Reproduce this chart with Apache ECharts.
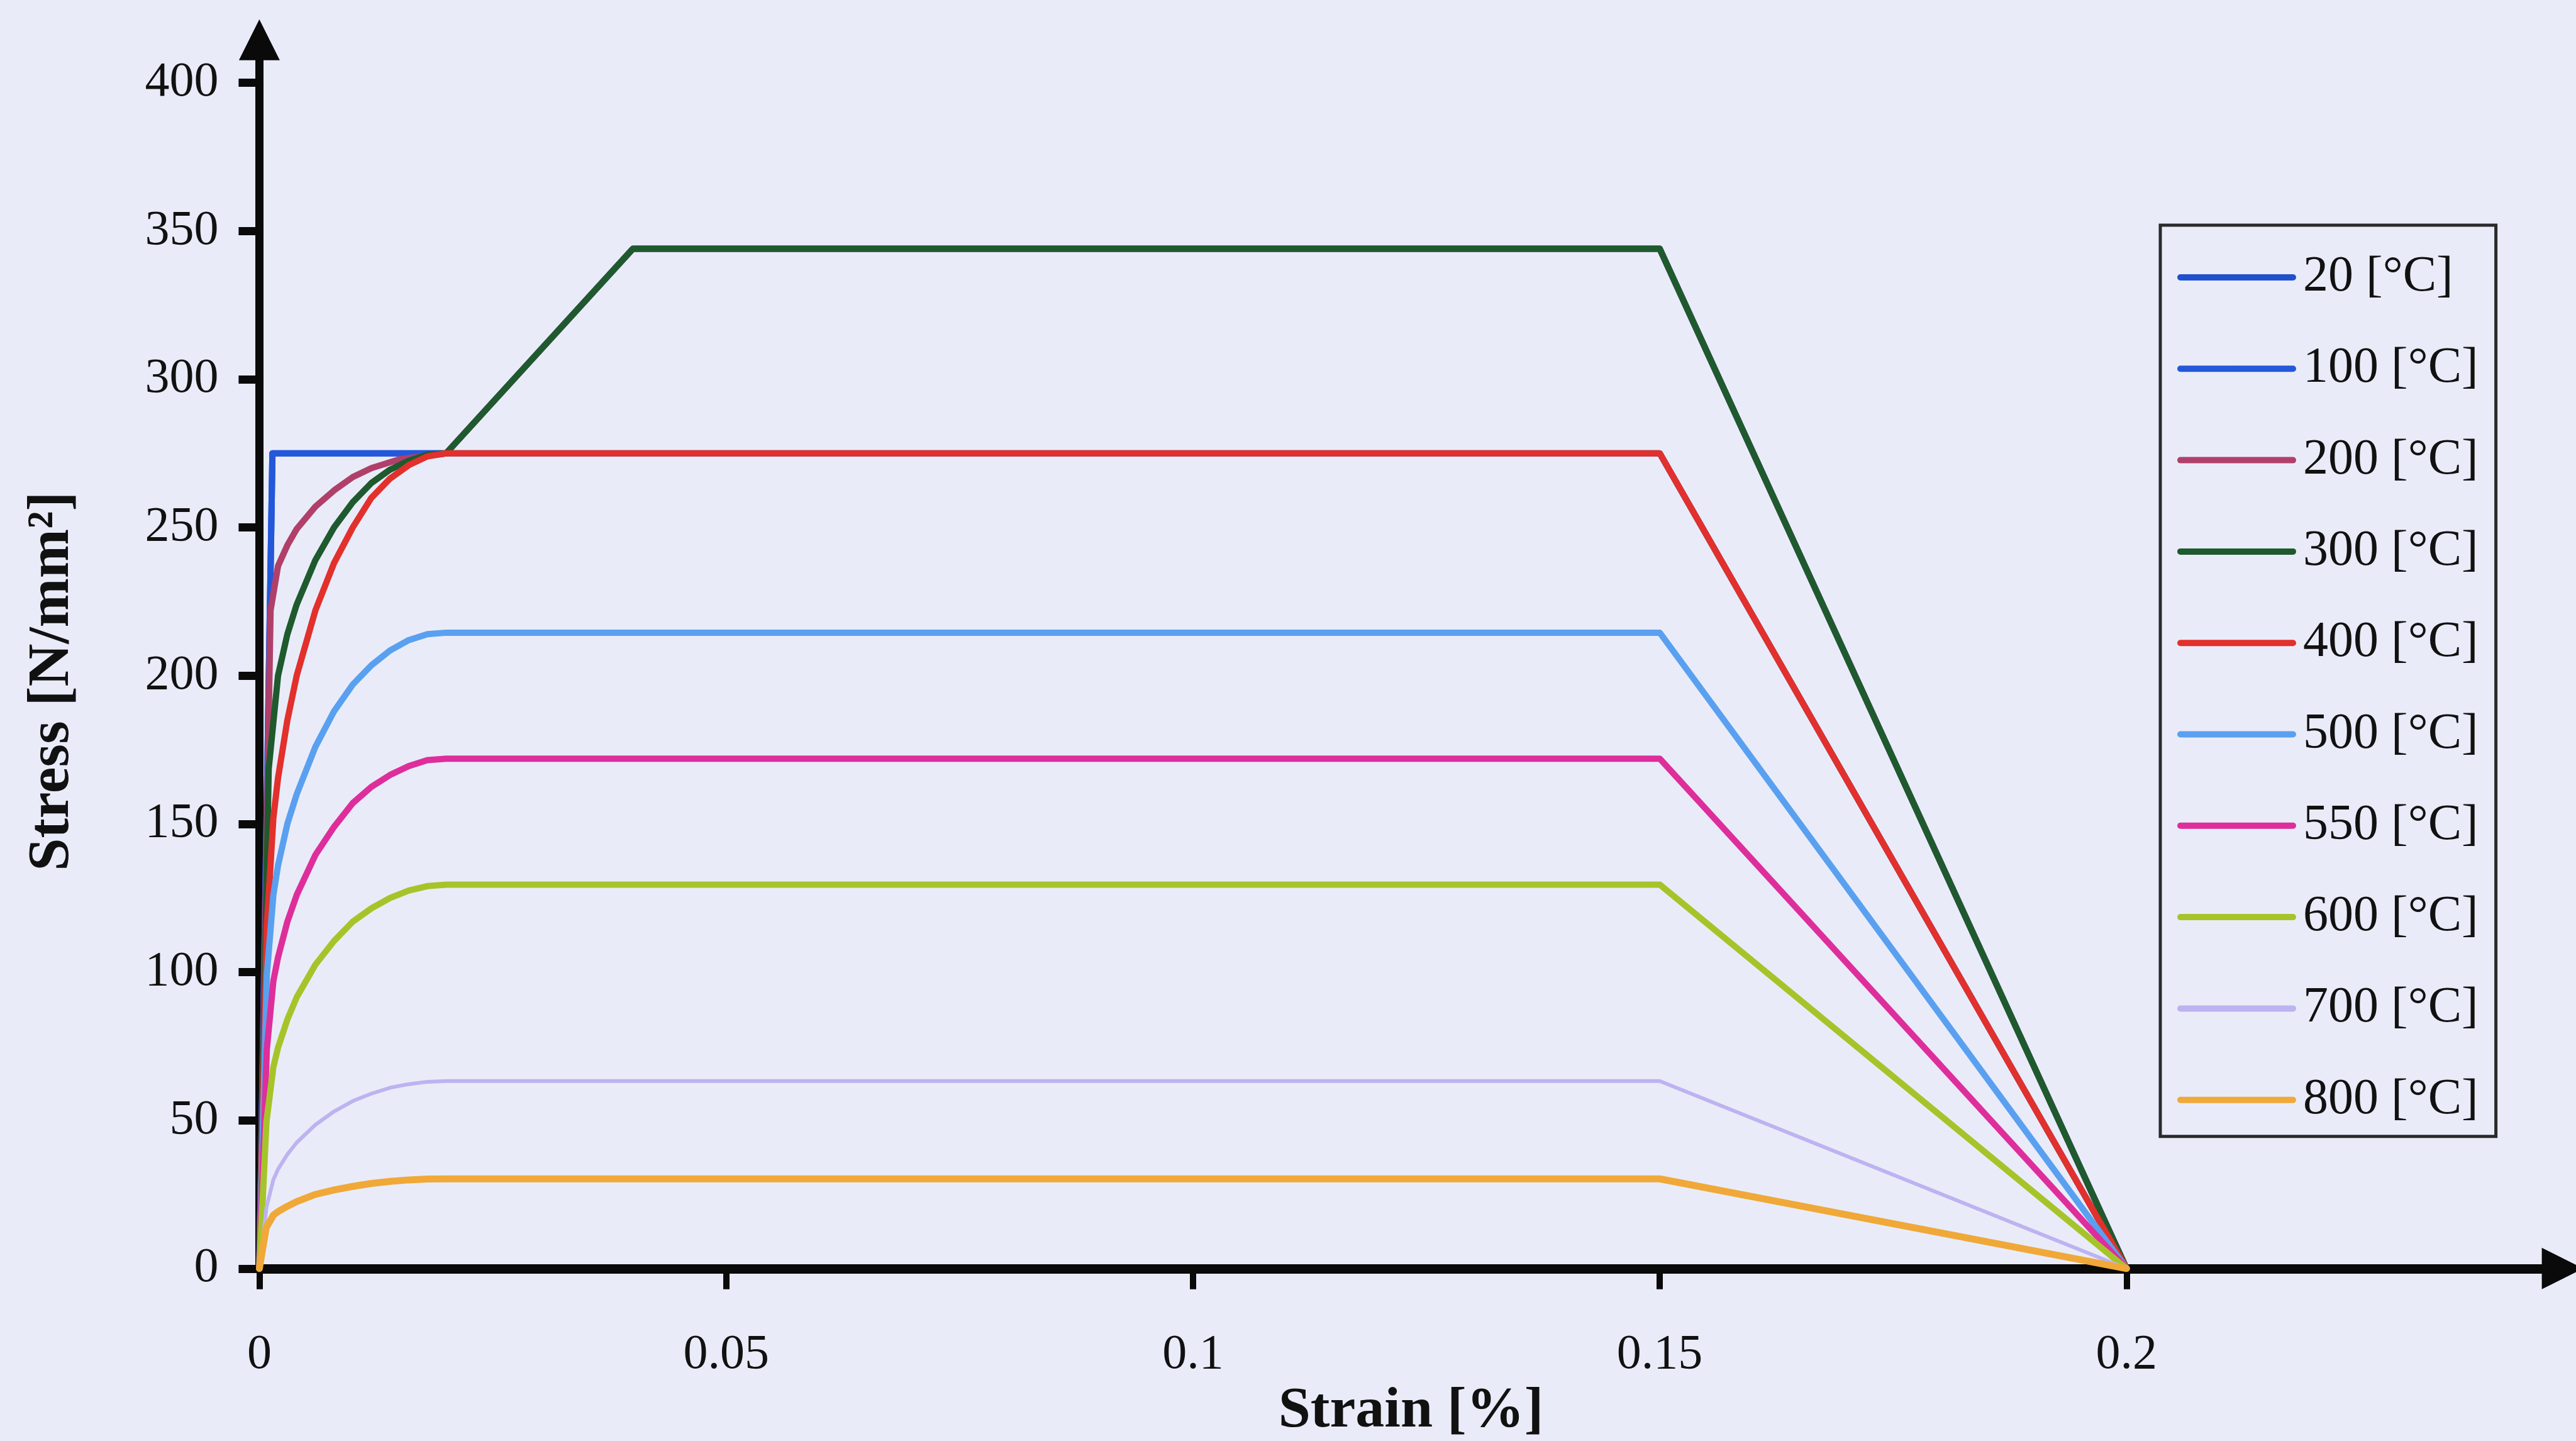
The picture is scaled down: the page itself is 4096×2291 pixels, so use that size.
<!DOCTYPE html>
<html>
<head>
<meta charset="utf-8">
<title>Stress-strain curves</title>
<script src="https://cdn.jsdelivr.net/npm/echarts@6/dist/echarts.min.js"></script>
<style>
  html, body { margin: 0; padding: 0; background: #E9ECF8; }
  #chart { width: 4096px; height: 2291px; }
</style>
</head>
<body>
<div id="chart"></div>
<script>
// ---- data: [strain, stress N/mm²] ----
const T20  = [[0,0],[0.0014,275],[0.15,275],[0.2,0]];
const T100 = [[0,0],[0.0014,275],[0.02,275],[0.04,344],[0.15,344],[0.2,0]];
const T200 = [[0,0],[0.0012,222],[0.002,237],[0.003,244],[0.004,249.5],[0.006,257],[0.008,262.5],[0.01,267],[0.012,270],[0.015,273],[0.02,275],[0.04,344],[0.15,344],[0.2,0]];
const T300 = [[0,0],[0.001,168.6],[0.002,200],[0.003,214],[0.004,224],[0.006,239],[0.008,250],[0.01,258.5],[0.012,265],[0.014,269.5],[0.016,272.5],[0.018,274.5],[0.02,275],[0.04,344],[0.15,344],[0.2,0]];
const T400 = [[0,0],[0.0008,115.5],[0.0015,152],[0.002,165.5],[0.003,185],[0.004,200],[0.006,222],[0.008,238],[0.01,250],[0.012,260],[0.014,266.5],[0.016,271],[0.018,274],[0.02,275],[0.15,275],[0.2,0]];
const T500 = [[0,0],[0.0008,99],[0.0015,126],[0.002,136],[0.003,150],[0.004,160],[0.006,176],[0.008,188],[0.01,197],[0.012,203.5],[0.014,208.5],[0.016,212],[0.018,214],[0.02,214.5],[0.15,214.5],[0.2,0]];
const T550 = [[0,0],[0.0008,74],[0.0015,97],[0.002,105],[0.003,117],[0.004,126],[0.006,139.5],[0.008,149],[0.01,157],[0.012,162.5],[0.014,166.5],[0.016,169.5],[0.018,171.5],[0.02,172],[0.15,172],[0.2,0]];
const T600 = [[0,0],[0.00076,49.5],[0.0015,68],[0.002,74.5],[0.003,84],[0.004,91.5],[0.006,102.5],[0.008,110.5],[0.01,117],[0.012,121.5],[0.014,125],[0.016,127.5],[0.018,129],[0.02,129.5],[0.15,129.5],[0.2,0]];
const T700 = [[0,0],[0.00076,20.6],[0.0015,30],[0.002,33.5],[0.003,38.5],[0.004,42.5],[0.006,48.5],[0.008,53],[0.01,56.5],[0.012,59],[0.014,61],[0.016,62.2],[0.018,63],[0.02,63.25],[0.15,63.25],[0.2,0]];
const T800 = [[0,0],[0.00073,13.75],[0.0015,18],[0.002,19.2],[0.003,21],[0.004,22.6],[0.006,25],[0.008,26.5],[0.01,27.7],[0.012,28.7],[0.014,29.4],[0.016,29.9],[0.018,30.2],[0.02,30.25],[0.15,30.25],[0.2,0]];

const SERIES_NAMES = ['20 [°C]','100 [°C]','200 [°C]','300 [°C]','400 [°C]','500 [°C]','550 [°C]','600 [°C]','700 [°C]','800 [°C]'];
const SERIES_DATA  = [T20, T100, T200, T300, T400, T500, T550, T600, T700, T800];

const X_TICKS = [0, 0.05, 0.1, 0.15, 0.2];
const X_TICK_LABELS = ['0', '0.05', '0.1', '0.15', '0.2'];
const Y_TICKS = [0, 50, 100, 150, 200, 250, 300, 350, 400];
const Y_TICK_LABELS = ['0', '50', '100', '150', '200', '250', '300', '350', '400'];

// ---- styles ----
const COLORS = ['#2150CC', '#2458DA', '#B0406A', '#1E5A2E', '#E2302C', '#5AA0F0', '#DE2E9C', '#A6C42A', '#BDB3F0', '#F0A838'];
const WIDTHS = [10, 10, 10, 10, 10, 10, 10, 10, 6, 11];
const FONT = '"Liberation Serif", "Times New Roman", serif';
const TRI = 'path://M0,0 L1,2 L-1,2 Z';

function lookup(ticks, labels) {
  return function (v) {
    for (let i = 0; i < ticks.length; i++) {
      if (Math.abs(ticks[i] - v) < 1e-9) return labels[i];
    }
    return '';
  };
}

const chart = echarts.init(document.getElementById('chart'), null, { renderer: 'canvas' });

chart.setOption({
  backgroundColor: '#E9ECF8',
  animation: false,
  grid: {
    left: 412.4, right: 21.4, top: 63.3, bottom: 274.2,
    containLabel: false,
    outerBoundsMode: 'none'
  },
  legend: {
    orient: 'vertical',
    left: 3435, top: 358,
    padding: [43, 28, 18, 27],
    backgroundColor: '#E9ECF8',
    borderColor: '#2a2a2a',
    borderWidth: 5,
    itemWidth: 179,
    itemHeight: 10,
    itemGap: 65.3,
    lineStyle: { width: 10 },
    textStyle: { fontFamily: FONT, fontSize: 80, lineHeight: 80, color: '#111', padding: [0, 0, 0, 11] },
    data: SERIES_NAMES
  },
  xAxis: {
    type: 'value',
    min: 0, max: 0.2467,
    name: 'Strain [%]',
    nameLocation: 'middle',
    nameGap: 180,
    nameTextStyle: { fontFamily: FONT, fontSize: 92, fontWeight: 'bold', color: '#111' },
    axisLine: { show: true, onZero: false, lineStyle: { color: '#0a0a0a', width: 15 }, symbol: ['none', TRI], symbolSize: [69, 66] },
    axisTick: { show: true, customValues: X_TICKS, length: 33, lineStyle: { color: '#0a0a0a', width: 10 } },
    axisLabel: { customValues: X_TICKS, formatter: lookup(X_TICKS, X_TICK_LABELS), margin: 99, fontFamily: FONT, fontSize: 78, color: '#111' },
    splitLine: { show: false }
  },
  yAxis: {
    type: 'value',
    min: 0, max: 414.5,
    name: 'Stress [N/mm²]',
    nameLocation: 'middle',
    nameRotate: 90,
    nameGap: 282,
    nameTextStyle: { fontFamily: FONT, fontSize: 94, fontWeight: 'bold', color: '#111', padding: [0, 86, 0, 0] },
    axisLine: { show: true, onZero: false, lineStyle: { color: '#0a0a0a', width: 13 }, symbol: ['none', TRI], symbolSize: [65, 66] },
    axisTick: { show: true, customValues: Y_TICKS, length: 33, lineStyle: { color: '#0a0a0a', width: 13 } },
    axisLabel: { customValues: Y_TICKS, formatter: lookup(Y_TICKS, Y_TICK_LABELS), margin: 65, fontFamily: FONT, fontSize: 78, color: '#111' },
    splitLine: { show: false }
  },
  series: SERIES_NAMES.map(function (name, i) {
    return {
      name: name,
      type: 'line',
      data: SERIES_DATA[i],
      symbol: 'none',
      smooth: false,
      clip: false,
      lineStyle: { color: COLORS[i], width: WIDTHS[i], join: 'round', cap: 'round' },
      itemStyle: { color: COLORS[i] },
      z: 2 + i
    };
  })
});
</script>
</body>
</html>
